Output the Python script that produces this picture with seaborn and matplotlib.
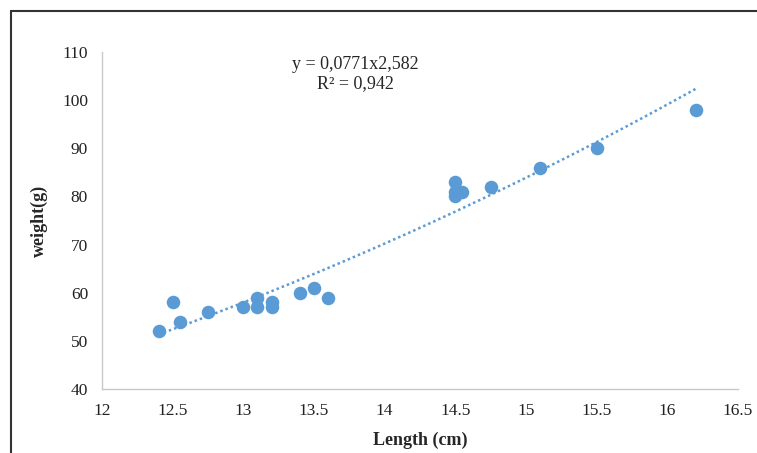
import numpy as np
import pandas as pd
import matplotlib
matplotlib.use("Agg")
import matplotlib.pyplot as plt
import seaborn as sns
from matplotlib.patches import Rectangle

# Plain white theme, Excel-like look
sns.set_theme(style="white")
plt.rcParams['font.family'] = ['Liberation Serif', 'DejaVu Serif']

# Data
length_cm = [12.4, 12.5, 12.55, 12.75, 13.0, 13.1, 13.1, 13.2, 13.2, 13.4,
             13.5, 13.6, 14.5, 14.5, 14.5, 14.55, 14.75, 15.1, 15.5, 16.2]
weight_g = [52, 58, 54, 56, 57, 59, 57, 58, 57, 60,
            61, 59, 83, 81, 80, 81, 82, 86, 90, 98]

# Power trendline y = a * x^b (as printed on the chart)
coef_a = 0.0771
coef_b = 2.582

x_ticks = [12, 12.5, 13, 13.5, 14, 14.5, 15, 15.5, 16, 16.5]
x_tick_labels = ["12", "12.5", "13", "13.5", "14", "14.5", "15", "15.5", "16", "16.5"]
y_ticks = [40, 50, 60, 70, 80, 90, 100, 110]

df = pd.DataFrame({"Length": length_cm, "Weight": weight_g})
blue = "#5B9BD5"

fig = plt.figure(figsize=(7.57, 4.53), dpi=100)
ax = fig.add_axes([0.1347, 0.1413, 0.8403, 0.7439])

# Trendline across the data range
x_fit = np.linspace(min(length_cm), max(length_cm), 200)
y_fit = coef_a * x_fit ** coef_b
ax.plot(x_fit, y_fit, color=blue, linewidth=1.8, linestyle=(0, (1, 1.2)), zorder=2)

sns.scatterplot(data=df, x="Length", y="Weight", ax=ax, color=blue, s=95,
                edgecolor=blue, linewidth=0, zorder=3, legend=False)

ax.set_xlim(12, 16.5)
ax.set_ylim(40, 110)
ax.set_xticks(x_ticks)
ax.set_xticklabels(x_tick_labels)
ax.set_yticks(y_ticks)
ax.tick_params(axis="both", length=0, labelsize=12.5, colors="#222222", pad=10)

for side in ["top", "right"]:
    ax.spines[side].set_visible(False)
for side in ["left", "bottom"]:
    ax.spines[side].set_color("#C8C8C8")
    ax.spines[side].set_linewidth(1.0)

ax.set_xlabel("Length (cm)", fontsize=13, fontweight="bold", labelpad=9)
ax.set_ylabel("weight(g)", fontsize=13, fontweight="bold", labelpad=10)

# Trendline equation
fig.text(355 / 757, 1 - 74 / 453, "y = 0,0771x2,582\nR² = 0,942",
         fontsize=13, ha="center", va="center", linespacing=1.2)

# Outer frame (cut off at the right and bottom)
fig.patches.append(Rectangle((10.5 / 757, -0.2), 1.2, 1.2 - 10.5 / 453,
                             transform=fig.transFigure, fill=False,
                             edgecolor="#333333", linewidth=1.5))

fig.savefig("out.png", dpi=100)
